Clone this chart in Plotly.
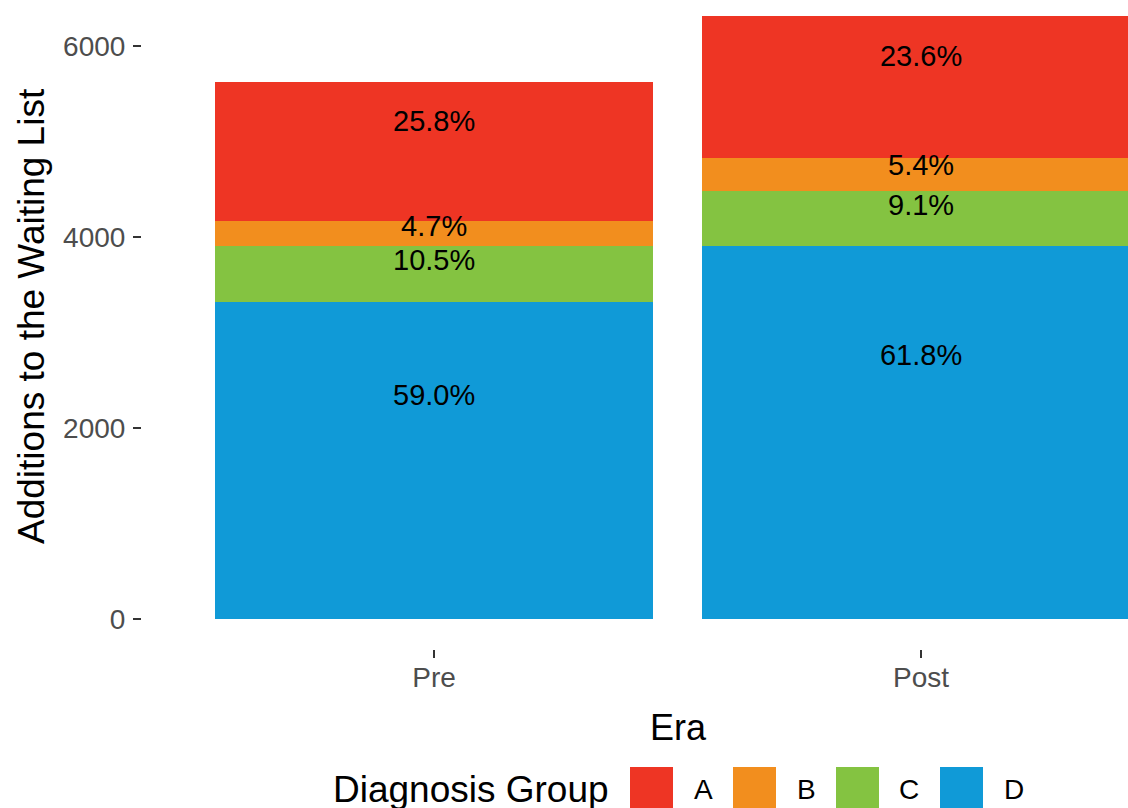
import plotly.graph_objects as go

# ---- data ----
eras = ["Pre", "Post"]
groups = ["A", "B", "C", "D"]
group_a = [1450, 1492]
group_b = [264, 342]
group_c = [590, 576]
group_d = [3316, 3906]
y_ticks = [0, 2000, 4000, 6000]

colors = {"A": "#EE3524", "B": "#F28E1E", "C": "#84C341", "D": "#109AD7"}
values = {"A": group_a, "B": group_b, "C": group_c, "D": group_d}

W, H = 1128, 808
L, R, T, B = 142, 0, 0, 159
FONT = "Liberation Sans, Arial, sans-serif"

fig = go.Figure()

totals = [sum(values[g][i] for g in groups) for i in range(len(eras))]
stack_order = ["D", "C", "B", "A"]  # bottom to top
cum = [0] * len(eras)
lab_x, lab_y, lab_t = [], [], []
for g in stack_order:
    v = values[g]
    fig.add_trace(go.Bar(x=eras, y=v, name=g, marker=dict(color=colors[g], line=dict(width=0)),
                         width=0.9, showlegend=False, hoverinfo="skip"))
    for i in range(len(eras)):
        lab_x.append(eras[i])
        lab_y.append(cum[i] + 0.7 * v[i])
        lab_t.append(f"{v[i] / totals[i] * 100:.1f}%")
        cum[i] += v[i]

fig.add_trace(go.Scatter(x=lab_x, y=lab_y, text=lab_t, mode="text",
                         textfont=dict(size=29, color="black", family=FONT),
                         showlegend=False, hoverinfo="skip"))

# y scale: 0 at px 619, 6000 at px 46 -> derive range for plot area 0..649
ppu = (619 - 46) / 6000.0
plot_h = H - T - B
y_top = 619 / ppu
y_bot = -(plot_h - 619) / ppu

fig.update_layout(
    width=W, height=H,
    margin=dict(l=L, r=R, t=T, b=B, pad=0),
    paper_bgcolor="white", plot_bgcolor="white",
    barmode="stack", bargap=0.1,
    font=dict(family=FONT),
    xaxis=dict(type="category", range=[-0.6, 1.425], showgrid=False, zeroline=False, showline=False,
               ticks="outside", ticklen=8, tickwidth=1.5, tickcolor="#333333",
               tickfont=dict(size=28, color="#4D4D4D", family=FONT), ticklabelstandoff=-5),
    yaxis=dict(range=[y_bot, y_top], tickvals=y_ticks, showgrid=False, zeroline=False, showline=False,
               ticks="outside", ticklen=8, tickwidth=1.5, tickcolor="#333333",
               tickfont=dict(size=28, color="#4D4D4D", family=FONT), ticklabelstandoff=2),
)

def px_x(px):
    return (px - L) / (W - L - R)

def px_y(py):
    return (H - B - py) / plot_h

annos = [
    dict(text="Era", x=px_x(678), y=px_y(727), xref="paper", yref="paper", showarrow=False,
         font=dict(size=36, color="black", family=FONT), xanchor="center", yanchor="middle"),
    dict(text="Additions to the Waiting List", x=px_x(31), y=px_y(316), xref="paper", yref="paper",
         showarrow=False, textangle=-90, font=dict(size=37, color="black", family=FONT),
         xanchor="center", yanchor="middle"),
    dict(text="Diagnosis Group", x=px_x(331), y=px_y(789), xref="paper", yref="paper", showarrow=False,
         font=dict(size=37, color="black", family=FONT), xanchor="left", yanchor="middle"),
]
shapes = []
key_left = [630, 733, 836, 940]
label_cx = [703, 806, 909, 1014]
for g, kx, lx in zip(groups, key_left, label_cx):
    shapes.append(dict(type="rect", xref="paper", yref="paper", x0=px_x(kx), x1=px_x(kx + 43),
                       y0=px_y(767), y1=px_y(812), fillcolor=colors[g], line=dict(width=0)))
    annos.append(dict(text=g, x=px_x(lx), y=px_y(789), xref="paper", yref="paper", showarrow=False,
                      font=dict(size=28, color="black", family=FONT), xanchor="center", yanchor="middle"))

fig.update_layout(annotations=annos, shapes=shapes)
fig.write_html("out.html", config={"displayModeBar": False},
               post_script="document.body.style.margin='0';document.body.style.padding='0';")
